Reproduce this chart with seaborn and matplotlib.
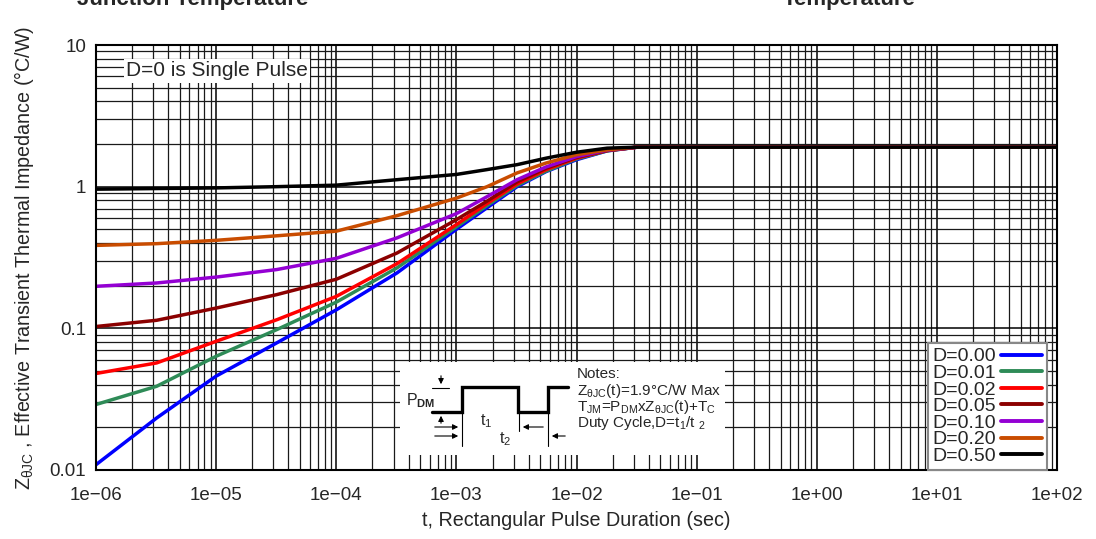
import numpy as np
import pandas as pd
import matplotlib
matplotlib.use("Agg")
import matplotlib.pyplot as plt
import seaborn as sns
from matplotlib.ticker import FixedLocator, FuncFormatter, LogLocator, NullFormatter

# --- data ---
t_sec = [1e-6, 3.2e-6, 1e-5, 3.2e-5, 1e-4, 3.2e-4, 1e-3, 1.8e-3, 3.2e-3, 5.6e-3, 1e-2, 1.8e-2, 3.2e-2, 1e2]
z_d000 = [0.0109, 0.0233, 0.046, 0.079, 0.135, 0.246, 0.50, 0.71, 1.00, 1.28, 1.55, 1.79, 1.9, 1.9]
z_d001 = [0.029, 0.039, 0.0635, 0.098, 0.153, 0.267, 0.52, 0.735, 1.02, 1.29, 1.57, 1.79, 1.9, 1.9]
z_d002 = [0.048, 0.057, 0.081, 0.115, 0.168, 0.286, 0.54, 0.76, 1.045, 1.32, 1.59, 1.80, 1.9, 1.9]
z_d005 = [0.103, 0.114, 0.139, 0.173, 0.222, 0.34, 0.585, 0.79, 1.08, 1.35, 1.61, 1.80, 1.9, 1.9]
z_d010 = [0.198, 0.209, 0.23, 0.26, 0.312, 0.435, 0.645, 0.85, 1.12, 1.38, 1.63, 1.81, 1.9, 1.9]
z_d020 = [0.385, 0.396, 0.418, 0.45, 0.485, 0.624, 0.83, 1.00, 1.25, 1.47, 1.68, 1.82, 1.9, 1.9]
z_d050 = [0.96, 0.97, 0.98, 1.0, 1.025, 1.12, 1.22, 1.32, 1.43, 1.59, 1.75, 1.87, 1.9, 1.9]

labels = ["D=0.00", "D=0.01", "D=0.02", "D=0.05", "D=0.10", "D=0.20", "D=0.50"]
series = [z_d000, z_d001, z_d002, z_d005, z_d010, z_d020, z_d050]
colors = ["#0000ff", "#2e8b57", "#ff0000", "#8b0000", "#9400d3", "#c94c00", "#000000"]

x_ticks = [1e-6, 1e-5, 1e-4, 1e-3, 1e-2, 1e-1, 1e0, 1e1, 1e2]
y_ticks = [0.01, 0.1, 1, 10]
y_ticklabels = ["0.01", "0.1", "1", "10"]

rows = []
for lab, vals in zip(labels, series):
    for t, z in zip(t_sec, vals):
        rows.append({"t": t, "z": z, "duty": lab})
df = pd.DataFrame(rows)

sns.set_style("white")
plt.rcParams["font.family"] = ["Liberation Sans", "DejaVu Sans"]
plt.rcParams["mathtext.fontset"] = "custom"
plt.rcParams["mathtext.rm"] = "Liberation Sans"
plt.rcParams["mathtext.it"] = "Liberation Sans:italic"
plt.rcParams["mathtext.bf"] = "Liberation Sans:bold"
plt.rcParams["mathtext.default"] = "regular"

fig = plt.figure(figsize=(10.96, 5.39), dpi=100)
ax = fig.add_axes([96 / 1096, 1 - 470 / 539, 961 / 1096, 425 / 539])

sns.lineplot(data=df, x="t", y="z", hue="duty", palette=dict(zip(labels, colors)),
             hue_order=labels, lw=2.5, ax=ax, estimator=None, sort=True)
ax.set_xscale("log")
ax.set_yscale("log")
ax.set_xlim(1e-6, 1e2)
ax.set_ylim(0.01, 10)

ax.xaxis.set_major_locator(FixedLocator(x_ticks))
ax.xaxis.set_major_formatter(FuncFormatter(lambda v, p: f"{v:.0e}".replace("-", "\u2212")))
ax.xaxis.set_minor_locator(LogLocator(base=10, subs=np.arange(2, 10)))
ax.xaxis.set_minor_formatter(NullFormatter())
ax.yaxis.set_major_locator(FixedLocator(y_ticks))
ax.set_yticklabels(y_ticklabels)
ax.yaxis.set_minor_locator(LogLocator(base=10, subs=np.arange(2, 10)))
ax.yaxis.set_minor_formatter(NullFormatter())

ax.grid(True, which="major", color="black", lw=1.1)
ax.grid(True, which="minor", color="#1a1a1a", lw=0.9)
ax.set_axisbelow(True)
ax.tick_params(which="both", length=0, labelsize=13.5)
ax.tick_params(axis="x", pad=12)
ax.tick_params(axis="y", pad=7)
for sp in ax.spines.values():
    sp.set_color("black")
    sp.set_linewidth(1.5)

ax.set_xlabel("t, Rectangular Pulse Duration (sec)", fontsize=14.2, labelpad=5)
ax.set_ylabel("$Z_{θJC}$ , Effective Transient Thermal Impedance (°C/W)", fontsize=14.2, labelpad=10)

handles, labs = ax.get_legend_handles_labels()
leg = ax.legend(handles, labs, loc="lower right", markerfirst=False, fontsize=14,
                frameon=True, fancybox=False, edgecolor="#888888", framealpha=1,
                handlelength=2.1, handletextpad=0.25, labelspacing=-0.05,
                borderpad=0.25, borderaxespad=0.0, bbox_to_anchor=(0.9896, 0.0))
leg.get_frame().set_linewidth(1.5)
for line in leg.get_lines():
    line.set_linewidth(2.8)

ax.text(0.031, 0.939, "D=0 is Single Pulse", transform=ax.transAxes, fontsize=15,
        va="center", ha="left",
        bbox=dict(facecolor="white", edgecolor="none", pad=1.5))

# clipped titles of neighbouring figures
fig.text(77 / 1096, 1 - 5 / 539, "Junction Temperature", fontsize=16, fontweight="bold", va="baseline")
fig.text(783 / 1096, 1 - 5 / 539, "Temperature", fontsize=16, fontweight="bold", va="baseline")

# --- inset: pulse diagram and notes ---
ins = fig.add_axes([400 / 1096, 1 - 455 / 539, 325 / 1096, 93 / 539])
ins.set_xlim(400, 725)
ins.set_ylim(455, 362)
ins.set_facecolor("white")
ins.set_xticks([])
ins.set_yticks([])
for sp in ins.spines.values():
    sp.set_visible(False)

wave_x = [432, 462, 462, 518, 518, 548, 548, 568]
wave_y = [412, 412, 387, 387, 412, 412, 387, 387]
ins.plot(wave_x, wave_y, color="black", lw=2.4, solid_joinstyle="miter")
ins.plot([432, 449], [388, 388], color="black", lw=0.8)
ins.plot([462, 462], [413, 446], color="black", lw=0.8)
ins.plot([519, 519], [413, 431], color="black", lw=0.8)
ins.plot([548, 548], [413, 446], color="black", lw=0.8)
arrow = dict(arrowstyle="-|>", color="black", lw=0.8, mutation_scale=8)
ins.annotate("", xy=(441, 387), xytext=(441, 373), arrowprops=arrow)
ins.annotate("", xy=(441, 413), xytext=(441, 426), arrowprops=arrow)
ins.annotate("", xy=(461, 427), xytext=(432, 427), arrowprops=arrow)
ins.annotate("", xy=(461, 436), xytext=(432, 436), arrowprops=arrow)
ins.annotate("", xy=(520, 427), xytext=(546, 427), arrowprops=arrow)
ins.annotate("", xy=(549, 436), xytext=(568, 436), arrowprops=arrow)
ins.text(406, 401, "P$_{\\mathbf{DM}}$", fontsize=11.5, va="center")
ins.text(480, 421, "t$_1$", fontsize=11.5, va="center")
ins.text(499, 439, "t$_2$", fontsize=11.5, va="center")
ins.text(577, 374, "Notes:", fontsize=11, va="center")
ins.text(577, 391, "$Z_{θJC}$(t)=1.9°C/W Max", fontsize=11, va="center")
ins.text(577, 407, "$T_{JM}$=$P_{DM}$x$Z_{θJC}$(t)+$T_C$", fontsize=11, va="center")
ins.text(577, 423, "Duty Cycle,D=t$_1$/t $_2$", fontsize=11, va="center")

fig.savefig("out.png", dpi=100)
plt.close(fig)
